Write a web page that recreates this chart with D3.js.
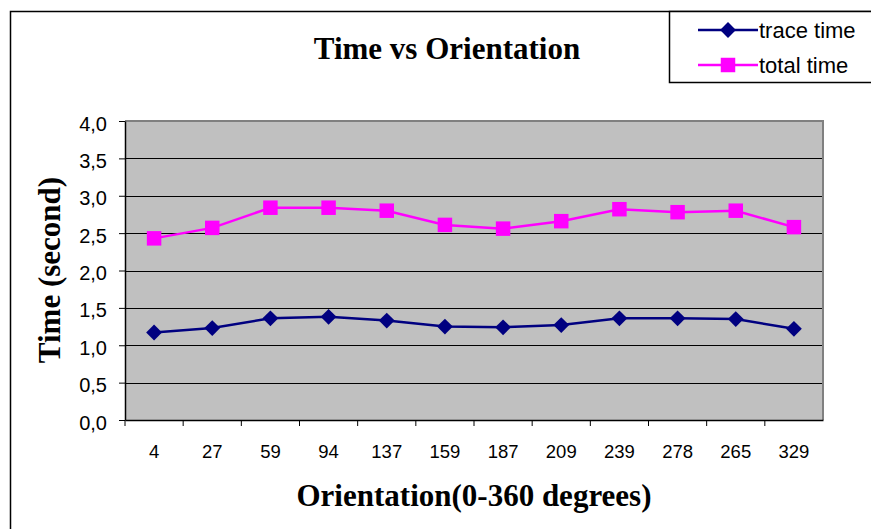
<!DOCTYPE html>
<html>
<head>
<meta charset="utf-8">
<script src="https://cdnjs.cloudflare.com/ajax/libs/d3/7.8.5/d3.min.js"></script>
<style>
  body { margin: 0; background: #fff; }
  svg { display: block; }
</style>
</head>
<body>
<svg></svg>
<script>
// data
var orientations = ["4", "27", "59", "94", "137", "159", "187", "209", "239", "278", "265", "329"]
var traceTime = [1.17, 1.23, 1.36, 1.38, 1.33, 1.25, 1.24, 1.27, 1.36, 1.36, 1.35, 1.22]
var totalTime = [2.43, 2.57, 2.84, 2.84, 2.80, 2.61, 2.56, 2.66, 2.82, 2.78, 2.80, 2.58]
var yTicks = [0, 0.5, 1, 1.5, 2, 2.5, 3, 3.5, 4]
var seriesNames = ["trace time", "total time"]

var width = 871, height = 529
var plot = {left: 125, right: 823, top: 121, bottom: 420}
var sans = "'Liberation Sans', Arial, sans-serif"
var serif = "'Liberation Serif', 'Times New Roman', serif"

var svg = d3.select("svg")
  .attr("width", width)
  .attr("height", height)

// outer chart frame (runs off the right and bottom edges)
svg.append("rect")
  .attr("x", 10.5)
  .attr("y", 11.5)
  .attr("width", width)
  .attr("height", height)
  .attr("fill", "white")
  .attr("stroke", "black")
  .attr("stroke-width", 1.5)

var x = d3.scaleBand()
  .domain(orientations)
  .range([plot.left, plot.right])

var y = d3.scaleLinear()
  .domain([0, 4])
  .range([plot.bottom, plot.top])

// plot area
svg.append("rect")
  .attr("x", plot.left)
  .attr("y", plot.top)
  .attr("width", plot.right - plot.left)
  .attr("height", plot.bottom - plot.top)
  .attr("fill", "#c0c0c0")

// gridlines
svg.append("g")
  .selectAll("line")
  .data(yTicks.slice(1))
  .join("line")
  .attr("x1", plot.left)
  .attr("x2", plot.right)
  .attr("y1", d => Math.round(y(d)) + 0.5)
  .attr("y2", d => Math.round(y(d)) + 0.5)
  .attr("stroke", "black")
  .attr("stroke-width", 1)

// gray border top + right
svg.append("path")
  .attr("d", "M" + plot.left + "," + plot.top + "H" + plot.right + "V" + plot.bottom)
  .attr("fill", "none")
  .attr("stroke", "#808080")
  .attr("stroke-width", 2)

// y axis
var yAxis = svg.append("g")
  .attr("transform", "translate(" + plot.left + ",0)")
  .call(d3.axisLeft(y)
    .tickValues(yTicks)
    .tickSize(6)
    .tickPadding(12)
    .tickSizeOuter(0)
    .tickFormat(d => d3.format(".1f")(d).replace(".", ",")))
yAxis.select(".domain").attr("stroke", "black").attr("stroke-width", 1.5)
yAxis.selectAll("text")
  .attr("font-family", sans)
  .attr("font-size", 20)
  .attr("dy", "0.45em")
  .attr("fill", "black")

// x axis, ticks sit on the category boundaries
var xAxis = svg.append("g")
  .attr("transform", "translate(0," + plot.bottom + ")")
  .call(d3.axisBottom(x).tickSize(0).tickPadding(25))
xAxis.select(".domain").attr("stroke", "black").attr("stroke-width", 1.5)
xAxis.selectAll("text")
  .attr("font-family", sans)
  .attr("font-size", 18.5)
  .attr("fill", "black")
xAxis.selectAll(".boundary")
  .data(orientations)
  .join("line")
  .attr("class", "boundary")
  .attr("x1", d => x(d))
  .attr("x2", d => x(d))
  .attr("y1", 0)
  .attr("y2", 6)
  .attr("stroke", "black")

var diamond = d3.symbol().type(d3.symbolDiamond2).size(160)
var square = d3.symbol().type(d3.symbolSquare).size(210)

var line = d3.line()
  .x((d, i) => x(orientations[i]) + x.bandwidth() / 2)
  .y(d => y(d))

function drawSeries(values, color, shape) {
  svg.append("path")
    .datum(values)
    .attr("d", line)
    .attr("fill", "none")
    .attr("stroke", color)
    .attr("stroke-width", 2.5)
  svg.append("g")
    .selectAll("path")
    .data(values)
    .join("path")
    .attr("d", shape)
    .attr("transform", (d, i) => "translate(" + (x(orientations[i]) + x.bandwidth() / 2) + "," + y(d) + ")")
    .attr("fill", color)
}

drawSeries(traceTime, "#000080", diamond)
drawSeries(totalTime, "#ff00ff", square)

// titles
svg.append("text")
  .attr("x", 447)
  .attr("y", 59)
  .attr("text-anchor", "middle")
  .attr("font-family", serif)
  .attr("font-weight", "bold")
  .attr("font-size", 31)
  .text("Time vs Orientation")

svg.append("text")
  .attr("x", 474)
  .attr("y", 506)
  .attr("text-anchor", "middle")
  .attr("font-family", serif)
  .attr("font-weight", "bold")
  .attr("font-size", 31)
  .text("Orientation(0-360 degrees)")

svg.append("text")
  .attr("transform", "translate(60,270) rotate(-90)")
  .attr("text-anchor", "middle")
  .attr("font-family", serif)
  .attr("font-weight", "bold")
  .attr("font-size", 31)
  .text("Time (second)")

// legend
svg.append("rect")
  .attr("x", 669.5)
  .attr("y", 11.5)
  .attr("width", 260)
  .attr("height", 71)
  .attr("fill", "white")
  .attr("stroke", "black")
  .attr("stroke-width", 1.5)

var legendColors = ["#000080", "#ff00ff"]
var legendShapes = [diamond, square]
seriesNames.forEach(function(name, i) {
  var ly = 30 + i * 35
  svg.append("line")
    .attr("x1", 698)
    .attr("x2", 758)
    .attr("y1", ly)
    .attr("y2", ly)
    .attr("stroke", legendColors[i])
    .attr("stroke-width", 2.5)
  svg.append("path")
    .attr("d", legendShapes[i])
    .attr("transform", "translate(728," + ly + ")")
    .attr("fill", legendColors[i])
  svg.append("text")
    .attr("x", 759)
    .attr("y", ly + 8)
    .attr("font-family", sans)
    .attr("font-size", 22)
    .text(name)
})
</script>
</body>
</html>
